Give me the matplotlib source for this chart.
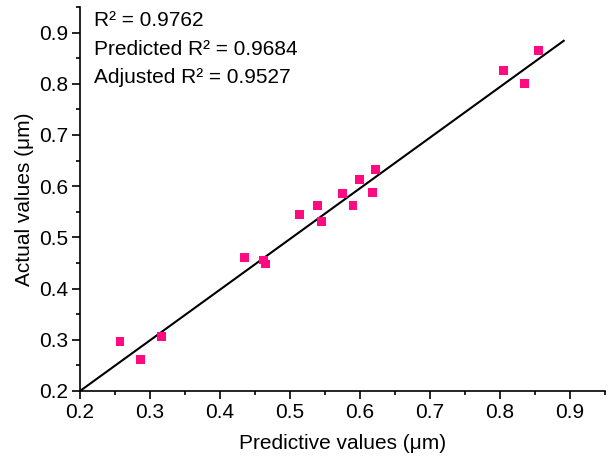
import matplotlib
matplotlib.use("Agg")
import matplotlib.pyplot as plt
from matplotlib.ticker import MultipleLocator

plt.rcParams['font.family'] = ['Liberation Sans', 'DejaVu Sans']

predicted = [0.257, 0.286, 0.316, 0.435, 0.462, 0.465, 0.514, 0.539, 0.545,
             0.575, 0.590, 0.599, 0.618, 0.622, 0.805, 0.835, 0.855]
actual = [0.296, 0.261, 0.306, 0.461, 0.456, 0.448, 0.544, 0.562, 0.531,
          0.586, 0.563, 0.613, 0.587, 0.632, 0.826, 0.800, 0.865]
fit_x = [0.2, 0.891]
fit_y = [0.2, 0.884]
stats = ["R\u00b2 = 0.9762", "Predicted R\u00b2 = 0.9684", "Adjusted R\u00b2 = 0.9527"]

fig = plt.figure(figsize=(6.08, 4.66), dpi=100)
ax = fig.add_axes([80/608, 75/466, 525/608, 384/466])

ax.plot(fit_x, fit_y, color='black', lw=1.5, zorder=2)
ax.scatter(predicted, actual, marker='s', s=40, color='#FF0A80', edgecolors='none', zorder=3)

ax.set_xlim(0.2, 0.95)
ax.set_ylim(0.2, 0.95)
ax.xaxis.set_minor_locator(MultipleLocator(0.05))
ax.yaxis.set_minor_locator(MultipleLocator(0.05))
ax.set_xticks([0.2, 0.3, 0.4, 0.5, 0.6, 0.7, 0.8, 0.9])
ax.set_yticks([0.2, 0.3, 0.4, 0.5, 0.6, 0.7, 0.8, 0.9])
ax.tick_params(which='major', direction='out', length=5.5, width=1.2, labelsize=15, pad=3)
ax.tick_params(which='minor', direction='out', length=3, width=1.2)
for s in ['top', 'right']:
    ax.spines[s].set_visible(False)
for s in ['left', 'bottom']:
    ax.spines[s].set_linewidth(1.2)

ax.set_xlabel("Predictive values (\u03bcm)", fontsize=15, labelpad=9)
ax.set_ylabel("Actual values (\u03bcm)", fontsize=15, labelpad=4)

ys = [0.913, 0.856, 0.802]
for t, y in zip(stats, ys):
    ax.text(0.22, y, t, fontsize=15, va='baseline', ha='left')

fig.savefig("out.png", dpi=100)
